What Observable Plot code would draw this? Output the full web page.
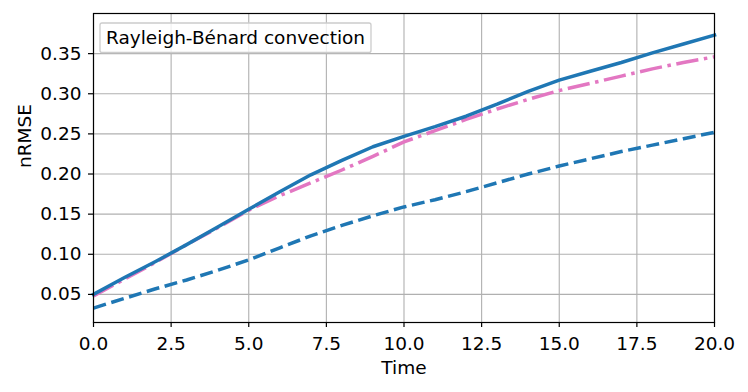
<!DOCTYPE html>
<html><head><meta charset="utf-8">
<script src="https://cdn.jsdelivr.net/npm/d3@7"></script>
<script src="https://cdn.jsdelivr.net/npm/@observablehq/plot@0.6"></script>
<style>body{margin:0;background:#fff;} #chart svg{display:block;}</style>
</head><body><div id="chart"></div>
<script>
// ---- data ----
const time = [0,1,2,3,4,5,6,7,8,9,10,11,12,13,14,15,16,17,18,19,20];
const solidSeries = [0.050,0.071,0.091,0.112,0.134,0.156,0.178,0.199,0.217,0.234,0.247,0.259,0.272,0.287,0.303,0.317,0.328,0.339,0.351,0.362,0.373];
const dashDotSeries = [0.048,0.069,0.090,0.112,0.133,0.155,0.173,0.189,0.205,0.222,0.240,0.254,0.268,0.281,0.293,0.304,0.313,0.322,0.331,0.339,0.346];
const dashedSeries = [0.033,0.045,0.057,0.068,0.080,0.093,0.108,0.123,0.136,0.148,0.159,0.168,0.178,0.189,0.200,0.210,0.219,0.228,0.236,0.244,0.252];
const xTicks = [0,2.5,5,7.5,10,12.5,15,17.5,20];
const yTicks = [0.05,0.10,0.15,0.20,0.25,0.30,0.35];
const legendLabel = "Rayleigh-Bénard convection";
const xLabel = "Time";
const yLabel = "nRMSE";

const toRows = (vals) => time.map((t, i) => ({t, v: vals[i]}));
const solidRows = toRows(solidSeries);
const dashDotRows = toRows(dashDotSeries);
const dashedRows = toRows(dashedSeries);

const FONT = "DejaVu Sans, sans-serif";
const FS = 18.5;
const blue = "#1f77b4", pink = "#e377c2", grid = "#b0b0b0";

function legendBox(index, scales, values, dims) {
  const g = d3.create("svg:g");
  const x0 = dims.marginLeft + 7, y0 = dims.marginTop + 10;
  g.append("rect")
    .attr("x", x0).attr("y", y0).attr("width", 271).attr("height", 29.5)
    .attr("rx", 2).attr("fill", "white").attr("fill-opacity", 0.8)
    .attr("stroke", "#cccccc").attr("stroke-width", 1.3);
  g.append("text")
    .attr("x", x0 + 6).attr("y", y0 + 21)
    .attr("text-anchor", "start")
    .attr("font-family", FONT).attr("font-size", FS).attr("fill", "black")
    .text(legendLabel);
  return g.node();
}

const chart = Plot.plot({
  width: 748,
  height: 392,
  marginLeft: 93,
  marginRight: 34,
  marginTop: 13,
  marginBottom: 70,
  style: {fontFamily: FONT, fontSize: FS + "px", background: "white", color: "black"},
  x: {domain: [0, 20]},
  y: {domain: [0.015, 0.40]},
  marks: [
    Plot.gridX(xTicks, {stroke: grid, strokeOpacity: 1, strokeWidth: 1.1}),
    Plot.gridY(yTicks, {stroke: grid, strokeOpacity: 1, strokeWidth: 1.1}),
    Plot.line(dashedRows, {x: "t", y: "v", stroke: blue, strokeWidth: 3.5, strokeDasharray: "13,5.6", strokeLinecap: "butt"}),
    Plot.line(dashDotRows, {x: "t", y: "v", stroke: pink, strokeWidth: 3.5, strokeDasharray: "22.4,5.6,3.5,5.6", strokeLinecap: "butt"}),
    Plot.line(solidRows, {x: "t", y: "v", stroke: blue, strokeWidth: 3.5, strokeLinecap: "square"}),
    Plot.frame({stroke: "black", strokeWidth: 1.2}),
    Plot.axisX(xTicks, {tickSize: 5, tickPadding: 9, tickFormat: d3.format(".1f"), label: null, stroke: "black", strokeWidth: 1.2, fontSize: FS}),
    Plot.axisY(yTicks, {tickSize: 5, tickPadding: 7, tickFormat: d3.format(".2f"), label: null, stroke: "black", strokeWidth: 1.2, fontSize: FS}),
    Plot.text([xLabel], {text: d => d, frameAnchor: "bottom", dy: 51, fill: "black", fontSize: FS}),
    Plot.text([yLabel], {text: d => d, frameAnchor: "left", dx: -68, rotate: -90, fill: "black", fontSize: FS}),
    legendBox
  ]
});
document.getElementById("chart").append(chart);
</script>
</body></html>
